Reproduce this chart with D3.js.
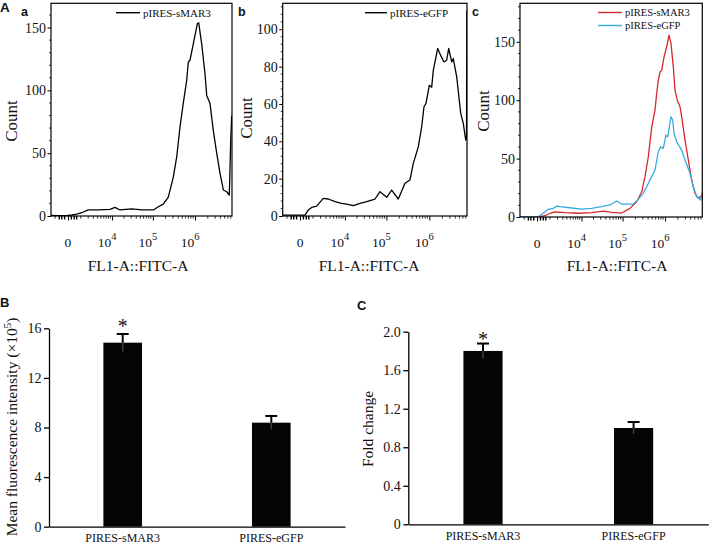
<!DOCTYPE html>
<html>
<head>
<meta charset="utf-8">
<script src="https://cdn.jsdelivr.net/npm/d3@7"></script>
<style>
  html,body{margin:0;padding:0;background:#fff;}
  svg{display:block;}
</style>
</head>
<body>
<svg id="chart" width="709" height="545"></svg>
<script>
// ================= DATA =================
// Flow cytometry histograms: [FL1-A::FITC-A fluorescence, count]
const histSMAR3_a = [[-1520,0.5],[-545,0.3],[0,0.5],[243,0.8],[605,1.5],[1107,2.6],[2017,4.8],[4200,4.8],[6090,5.0],[8820,5.3],[11900,6.9],[15900,4.8],[31000,5.6],[54100,4.8],[102500,4.8],[135000,7.4],[177300,9.5],[233200,15],[306300,31],[368800,47],[441600,71],[528600,90],[635800,108],[694000,122.6],[761000,124],[911000,137],[1133000,153],[1222000,153.7],[1438000,137],[1723000,113],[1890000,96],[2261000,89.6],[2706000,68],[3256000,50],[3898000,34],[4666000,20.7],[5610000,19.3],[6463000,16.7],[6976000,60],[7362000,80]];

const histEGFP_b = [[-1520,0.5],[0,0.5],[303,0.5],[556,3.2],[866,4.6],[1438,5.3],[2467,9.4],[3529,9.1],[5478,7.7],[8270,6.8],[11100,6.4],[16280,5.5],[23700,6.8],[34280,7.7],[54000,9.1],[70800,13],[101600,10],[133000,13.9],[189500,9.1],[271900,17.5],[355400,19.3],[423600,28.2],[553600,37],[664300,47.8],[750600,58.5],[836500,60.3],[999000,70],[1134000,69],[1236000,78],[1428000,85.2],[1562000,89.7],[1835000,86],[2187000,82.5],[2528000,83.4],[2811000,89.7],[3303000,82.5],[3596000,84.3],[4314000,74.5],[5345000,55],[6137000,49.6],[6981000,40.6],[7300000,42],[7420000,110]];

const histSMAR3_c = [[-1520,0],[0,0],[170,0.3],[532,1.1],[1007,3.2],[1630,4.3],[3511,3.7],[8256,3.2],[18010,3.7],[34650,5.1],[55100,4.0],[95200,3.4],[149700,7.4],[215500,13],[282800,21.6],[337800,34.5],[404500,51.6],[486500,77],[579800,91.5],[635800,105.8],[694000,117],[761400,124.3],[834600,125.7],[945200,137],[1093000,145.7],[1238000,155.7],[1379000,148.6],[1562000,128.6],[1713000,108.6],[1940000,100],[2243000,94.4],[2459000,85.8],[2943000,65.9],[3515000,48.8],[4226000,31.6],[5046000,20.3],[6038000,16],[6981000,18]];

const histEGFP_c = [[-1520,0],[0,0],[67,0.3],[396,3.2],[827,6.6],[1394,7.4],[1877,9.4],[2430,8.8],[5452,7.7],[10070,6.8],[18010,7.4],[31600,8.8],[50200,10.3],[72500,13.7],[95200,11.1],[178900,11.1],[235000,15.1],[308000,20.3],[442600,31.6],[579800,40.2],[694000,55.9],[789700,60.1],[908900,58.8],[1051000,70.1],[1152000,68.7],[1258000,77.2],[1379000,85.8],[1512000,83],[1621000,71.6],[1878000,64.4],[2459000,57.3],[2943000,48.8],[3854000,37.4],[4602000,25.9],[5533000,17.4],[6870000,14.5],[7480000,21.6]];

const xMajorTicks = [0, 1e4, 1e5, 1e6];
const xMajorExponents = [null, 4, 5, 6];
const yTicksA = [0, 50, 100, 150];
const yTicksB = [0, 20, 40, 60, 80, 100];
const yTicksC = [0, 50, 100, 150];

const barCategories = ["PIRES-sMAR3", "PIRES-eGFP"];
const mfiValues = [14.84, 8.39];     // x10^5
const mfiErrors = [0.70, 0.54];
const mfiTicks = [0, 4, 8, 12, 16];
const foldValues = [1.80, 1.00];
const foldErrors = [0.077, 0.062];
const foldTicks = [0, 0.4, 0.8, 1.2, 1.6, 2.0];
const significance = ["*", ""];

// ================= STYLE =================
const SERIF = "'Liberation Serif','Times New Roman',serif";
const SANS = "'Liberation Sans',Arial,sans-serif";
const RED = "#d8262d";
const BLUE = "#37abe0";
const xDomain = [-1520, 7.48e6];

const svg = d3.select("#chart");

// minor tick positions for the logicle-like axis
const xMinorTicks = [-1000, -600, -400, -200, 200, 400, 600];
[1e3, 1e4, 1e5, 1e6].forEach(dec => { for (let m = (dec === 1e3 ? 1 : 2); m <= 9; m++) { const v = m * dec; if (v < 7.4e6) xMinorTicks.push(v); } });

let clipId = 0;
function histPanel(cfg) {
  const g = svg.append("g");
  const x = d3.scaleSymlog().constant(1000).domain(xDomain).range([cfg.l, cfg.r]);
  const y = d3.scaleLinear().domain([0, cfg.ymax]).range([cfg.b, cfg.t]);
  const id = "clip" + (clipId++);
  svg.append("clipPath").attr("id", id).append("rect")
    .attr("x", cfg.l).attr("y", cfg.t).attr("width", cfg.r - cfg.l).attr("height", cfg.b - cfg.t);

  const line = d3.line().x(d => x(d[0])).y(d => y(d[1]));
  cfg.series.forEach(s => {
    g.append("path").datum(s.data).attr("clip-path", `url(#${id})`)
      .attr("d", line).attr("fill", "none").attr("stroke", s.color)
      .attr("stroke-width", 1.3).attr("stroke-linejoin", "round");
  });

  // frame
  g.append("rect").attr("x", cfg.l).attr("y", cfg.t).attr("width", cfg.r - cfg.l).attr("height", cfg.b - cfg.t)
    .attr("fill", "none").attr("stroke", "#000").attr("stroke-width", 1.2);

  // y axis
  const yAx = g.append("g").attr("transform", `translate(${cfg.l},0)`)
    .call(d3.axisLeft(y).tickValues(cfg.yTicks).tickSize(3.5).tickPadding(1.5).tickFormat(d3.format("d")));
  yAx.select(".domain").remove();
  yAx.selectAll("text").attr("font-family", SERIF).attr("font-size", 14).attr("fill", "#111");
  yAx.selectAll("line").attr("stroke-width", 1);
  const yMinor = d3.range(0, cfg.ymax, cfg.yMinor).filter(v => !cfg.yTicks.includes(v));
  g.selectAll(null).data(yMinor).enter().append("line")
    .attr("x1", cfg.l - 2).attr("x2", cfg.l).attr("y1", d => y(d)).attr("y2", d => y(d))
    .attr("stroke", "#000").attr("stroke-width", 0.8);

  // x axis ticks
  const xAx = g.append("g").attr("transform", `translate(0,${cfg.b})`)
    .call(d3.axisBottom(x).tickValues(xMajorTicks).tickSize(4.5).tickFormat(""));
  xAx.select(".domain").remove();
  xAx.selectAll("line").attr("stroke-width", 1);
  g.selectAll(null).data(xMinorTicks).enter().append("line")
    .attr("x1", d => x(d)).attr("x2", d => x(d))
    .attr("y1", cfg.b).attr("y2", d => Math.abs(d) < 1000 ? cfg.b + 3.5 : cfg.b + 2.6)
    .attr("stroke", "#000").attr("stroke-width", d => Math.abs(d) < 1000 ? 1.4 : 0.8);

  xMajorTicks.forEach((v, i) => {
    const e = xMajorExponents[i];
    if (e === null) {
      g.append("text").attr("x", x(v)).attr("y", cfg.b + 31).attr("text-anchor", "middle")
        .attr("font-family", SERIF).attr("font-size", 13.5).attr("fill", "#111").text("0");
    } else {
      const t = g.append("text").attr("x", x(v) - 5).attr("y", cfg.b + 31).attr("text-anchor", "middle")
        .attr("font-family", SERIF).attr("font-size", 13.5).attr("fill", "#111");
      t.append("tspan").text("10");
      t.append("tspan").attr("dy", -7).attr("font-size", 10.5).text(e);
    }
  });

  // axis titles
  g.append("text").attr("x", cfg.xTitleX).attr("y", 271).attr("text-anchor", "middle")
    .attr("font-family", SERIF).attr("font-size", 15.5).attr("fill", "#111").text("FL1-A::FITC-A");
  g.append("text").attr("transform", `translate(${cfg.yTitleX},${cfg.yTitleY}) rotate(-90)`)
    .attr("text-anchor", "middle").attr("font-family", SERIF).attr("font-size", 17).attr("fill", "#111").text("Count");

  // panel letter
  g.append("text").attr("x", cfg.letterX).attr("y", 16).attr("font-family", SANS).attr("font-weight", "bold")
    .attr("font-size", 12.5).attr("fill", "#111").text(cfg.letter);

  // legend
  cfg.series.forEach((s, i) => {
    const ly = cfg.legY[i];
    g.append("line").attr("x1", cfg.legX1).attr("x2", cfg.legX2).attr("y1", ly).attr("y2", ly)
      .attr("stroke", s.color).attr("stroke-width", 1.4);
    g.append("text").attr("x", cfg.legX2 + 3).attr("y", ly).attr("dy", "0.35em")
      .attr("font-family", SERIF).attr("font-size", cfg.legFont).attr("fill", "#111").text(s.name);
  });
}

histPanel({l: 51, r: 232, t: 3.3, b: 216, ymax: 169.3, yTicks: yTicksA, yMinor: 10,
  series: [{name: "pIRES-sMAR3", data: histSMAR3_a, color: "#000"}],
  xTitleX: 138, yTitleX: 16.5, yTitleY: 121, letter: "a", letterX: 21,
  legX1: 116, legX2: 140, legY: [12.7], legFont: 11});

histPanel({l: 282.7, r: 467, t: 3.3, b: 216, ymax: 113.9, yTicks: yTicksB, yMinor: 4,
  series: [{name: "pIRES-eGFP", data: histEGFP_b, color: "#000"}],
  xTitleX: 369, yTitleX: 252, yTitleY: 118, letter: "b", letterX: 238,
  legX1: 365, legX2: 387, legY: [12.7], legFont: 11});

histPanel({l: 520, r: 702.3, t: 3.3, b: 217, ymax: 183, yTicks: yTicksC, yMinor: 10,
  series: [{name: "pIRES-sMAR3", data: histSMAR3_c, color: RED},
           {name: "pIRES-eGFP", data: histEGFP_c, color: BLUE}],
  xTitleX: 617, yTitleX: 488.5, yTitleY: 111, letter: "c", letterX: 472,
  legX1: 598, legX2: 622, legY: [12.5, 25.5], legFont: 10.5});

// big letter A
svg.append("text").attr("x", 0).attr("y", 12).attr("font-family", SANS).attr("font-weight", "bold")
  .attr("font-size", 13.5).attr("fill", "#111").text("A");

// ================= BAR PANELS =================
function barPanel(cfg) {
  const g = svg.append("g");
  const x = d3.scaleBand().domain(barCategories).range([cfg.l, cfg.r]).paddingInner(0.74).paddingOuter(0.366);
  const y = d3.scaleLinear().domain(cfg.domain).range([cfg.b, cfg.t]);

  g.selectAll(null).data(barCategories).enter().append("rect")
    .attr("x", d => x(d)).attr("width", x.bandwidth())
    .attr("y", (d, i) => y(cfg.values[i])).attr("height", (d, i) => y(0) - y(cfg.values[i]))
    .attr("fill", "#050505");

  barCategories.forEach((c, i) => {
    const cx = x(c) + x.bandwidth() / 2;
    const v = cfg.values[i], e = cfg.errors[i];
    g.append("line").attr("x1", cx).attr("x2", cx).attr("y1", y(v - e)).attr("y2", y(v))
      .attr("stroke", "#3a3a3a").attr("stroke-width", 1.6);
    g.append("line").attr("x1", cx).attr("x2", cx).attr("y1", y(v)).attr("y2", y(v + e))
      .attr("stroke", "#000").attr("stroke-width", 2);
    g.append("line").attr("x1", cx - 6).attr("x2", cx + 6).attr("y1", y(v + e)).attr("y2", y(v + e))
      .attr("stroke", "#000").attr("stroke-width", 2);
    if (significance[i]) {
      g.append("text").attr("x", cx).attr("y", cfg.starY).attr("text-anchor", "middle")
        .attr("font-family", SERIF).attr("font-size", 20).attr("fill", "#111").text(significance[i]);
    }
  });

  const yAx = g.append("g").attr("transform", `translate(${cfg.l},0)`)
    .call(d3.axisLeft(y).tickValues(cfg.ticks).tickSize(5).tickSizeOuter(0).tickPadding(2.5).tickFormat(cfg.fmt));
  yAx.selectAll("text").attr("font-family", SERIF).attr("font-size", 14).attr("fill", "#111");
  yAx.selectAll("line,path").attr("stroke-width", 1.3);

  const xAx = g.append("g").attr("transform", `translate(0,${cfg.b})`)
    .call(d3.axisBottom(x).tickSize(0).tickSizeOuter(0).tickPadding(7));
  xAx.selectAll("text").attr("font-family", SERIF).attr("font-size", 12).attr("fill", "#111");
  xAx.select(".domain").attr("stroke-width", 1.3);

  const t = g.append("text").attr("transform", `translate(${cfg.titleX},${cfg.titleY}) rotate(-90)`)
    .attr("text-anchor", "middle").attr("font-family", SERIF).attr("font-size", 15.5).attr("fill", "#111");
  cfg.title(t);

  g.append("text").attr("x", cfg.letterX).attr("y", cfg.letterY).attr("font-family", SANS).attr("font-weight", "bold")
    .attr("font-size", 13).attr("fill", "#111").text(cfg.letter);
}

barPanel({l: 49, r: 345, t: 328.3, b: 526.7, domain: [0, 16], values: mfiValues, errors: mfiErrors,
  ticks: mfiTicks, fmt: d3.format("d"), starY: 332.5, titleX: 16.5, titleY: 427,
  title: t => { t.append("tspan").text("Mean fluorescence intensity (\u00d710");
                t.append("tspan").attr("dy", -6).attr("font-size", 11).text("5");
                t.append("tspan").attr("dy", 6).text(")"); },
  letter: "B", letterX: 0, letterY: 307});

barPanel({l: 408.3, r: 708.3, t: 331.7, b: 524.3, domain: [0, 2], values: foldValues, errors: foldErrors,
  ticks: foldTicks, fmt: d => d === 0 ? "0" : d3.format(".1f")(d), starY: 345.5, titleX: 373, titleY: 429,
  title: t => t.text("Fold change"),
  letter: "C", letterX: 357, letterY: 310});
</script>
</body>
</html>
